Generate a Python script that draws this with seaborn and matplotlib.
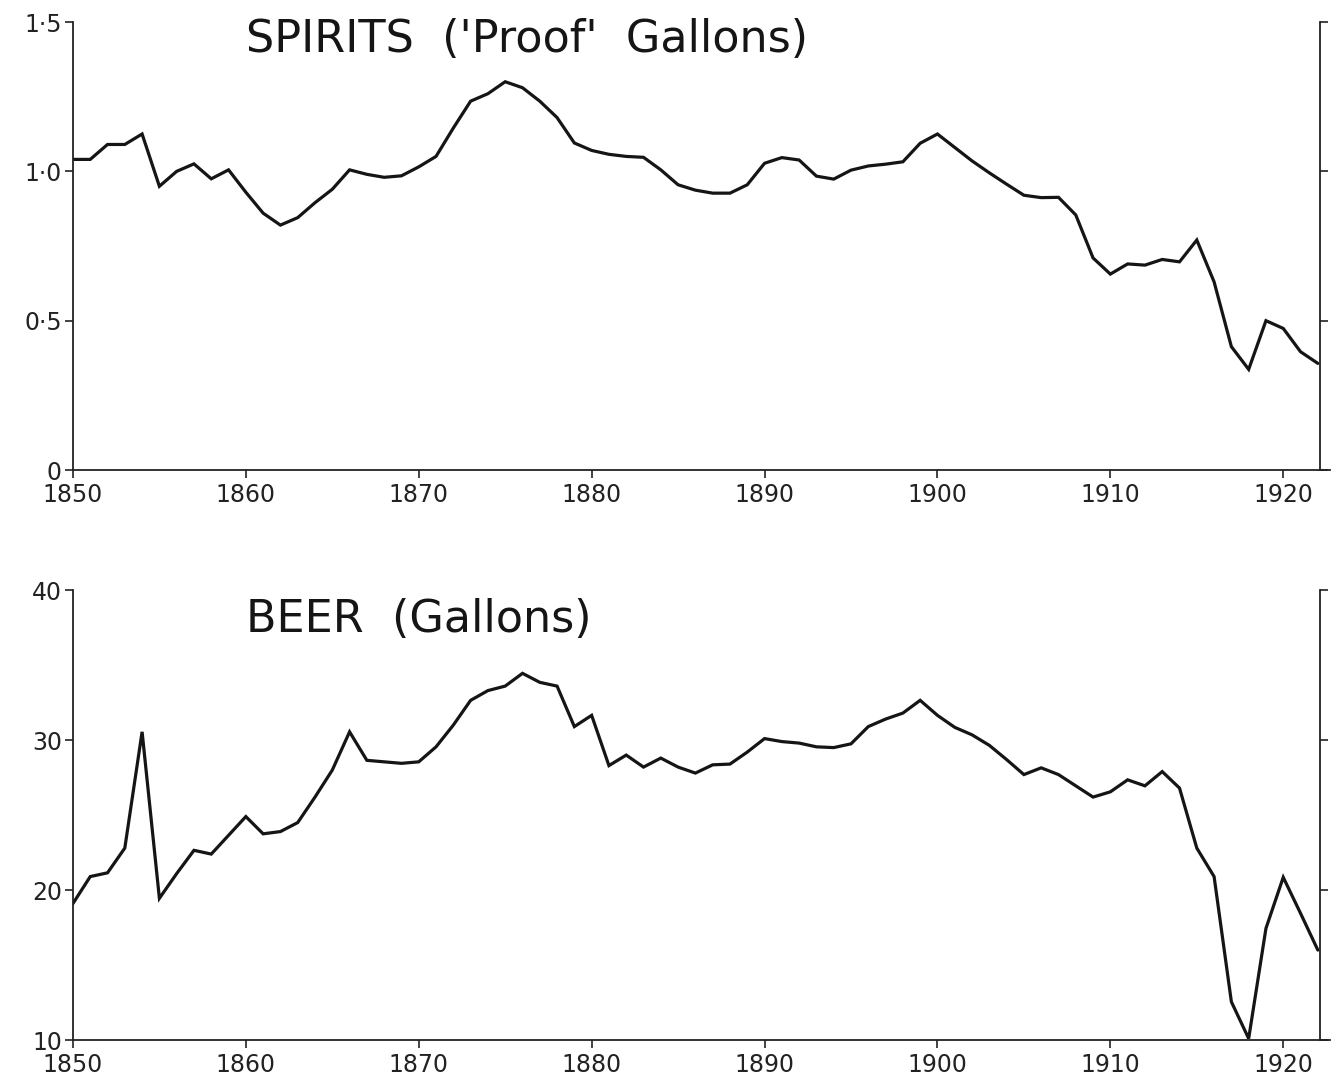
import matplotlib
matplotlib.use('Agg')

import pandas as pd
import matplotlib.pyplot as plt
import seaborn as sns

# DATA (per head of population)
years = list(range(1850, 1923))

spirits = [
    1.04, 1.04, 1.09, 1.09, 1.125, 0.95, 1.00, 1.025, 0.975, 1.005,   # 1850-59
    0.93, 0.86, 0.82, 0.845, 0.895, 0.94, 1.005, 0.99, 0.98, 0.985,   # 1860-69
    1.015, 1.05, 1.145, 1.235, 1.26, 1.30, 1.28, 1.235, 1.18, 1.095,  # 1870-79
    1.07, 1.057, 1.05, 1.047, 1.005, 0.955, 0.937, 0.927, 0.927, 0.955,  # 1880-89
    1.027, 1.046, 1.038, 0.984, 0.974, 1.004, 1.018, 1.024, 1.032, 1.094,  # 1890-99
    1.125, 1.08, 1.035, 0.995, 0.957, 0.92, 0.912, 0.913, 0.854, 0.71,  # 1900-09
    0.656, 0.69, 0.686, 0.705, 0.697, 0.77, 0.63, 0.413, 0.337, 0.50,  # 1910-19
    0.474, 0.396, 0.357,                                              # 1920-22
]

beer = [
    19.1, 20.9, 21.15, 22.8, 30.55, 19.45, 21.1, 22.65, 22.4, 23.65,  # 1850-59
    24.9, 23.75, 23.9, 24.5, 26.2, 28.0, 30.55, 28.65, 28.55, 28.45,  # 1860-69
    28.55, 29.55, 31.0, 32.65, 33.3, 33.6, 34.45, 33.85, 33.6, 30.9,  # 1870-79
    31.65, 28.3, 29.0, 28.2, 28.8, 28.2, 27.8, 28.35, 28.4, 29.2,     # 1880-89
    30.1, 29.9, 29.8, 29.55, 29.5, 29.75, 30.9, 31.4, 31.8, 32.65,    # 1890-99
    31.65, 30.85, 30.35, 29.65, 28.7, 27.7, 28.15, 27.7, 26.95, 26.2,  # 1900-09
    26.55, 27.35, 26.95, 27.9, 26.8, 22.8, 20.9, 12.55, 10.1, 17.45,  # 1910-19
    20.85, 18.45, 16.0,                                               # 1920-22
]

x_ticks = [1850, 1860, 1870, 1880, 1890, 1900, 1910, 1920]
spirits_ticks = [0, 0.5, 1.0, 1.5]
spirits_labels = ["0", "0\u00b75", "1\u00b70", "1\u00b75"]
beer_ticks = [10, 20, 30, 40]
beer_labels = ["10", "20", "30", "40"]

df = pd.DataFrame({"year": years, "spirits": spirits, "beer": beer})

# STYLE
sns.set_style("ticks")
plt.rcParams["font.family"] = ["DejaVu Sans"]

fig = plt.figure(figsize=(13.31, 10.79), dpi=100)
# axes run a little past the right spine so the baseline pokes out, as in the original
ax_top = fig.add_axes([0.0548, 0.5644, 0.9444, 0.4152])
ax_bot = fig.add_axes([0.0548, 0.0361, 0.9444, 0.4170])

panels = [
    (ax_top, "spirits", (0, 1.5), spirits_ticks, spirits_labels,
     "SPIRITS  ('Proof'  Gallons)", 0.96),
    (ax_bot, "beer", (10, 40), beer_ticks, beer_labels,
     "BEER  (Gallons)", 0.935),
]

for ax, col, ylim, yt, ylab, title, ty in panels:
    sns.lineplot(data=df, x="year", y=col, ax=ax, color="#151515",
                 linewidth=2.3, solid_joinstyle="miter")
    ax.set_xlim(1850, 1922.7)
    ax.set_ylim(*ylim)
    ax.set_xticks(x_ticks)
    ax.set_xticklabels([str(t) for t in x_ticks])
    ax.set_yticks(yt)
    ax.set_yticklabels(ylab)
    ax.set_xlabel("")
    ax.set_ylabel("")
    ax.spines["top"].set_visible(False)
    ax.spines["right"].set_position(("data", 1922.1))
    for s in ["left", "bottom", "right"]:
        ax.spines[s].set_linewidth(1.3)
        ax.spines[s].set_color("#222222")
    ax.tick_params(axis="y", which="both", left=True, right=True,
                   labelright=False, direction="out", length=6,
                   width=1.2, colors="#222222", labelsize=17, pad=2)
    ax.tick_params(axis="x", direction="out", length=6, width=1.2,
                   colors="#222222", labelsize=17, pad=3)
    ax.text(0.138, ty, title, transform=ax.transAxes, fontsize=32,
            ha="left", va="center", color="#151515")

fig.savefig("out.png", dpi=100)
plt.close(fig)
print("Saved: out.png")
